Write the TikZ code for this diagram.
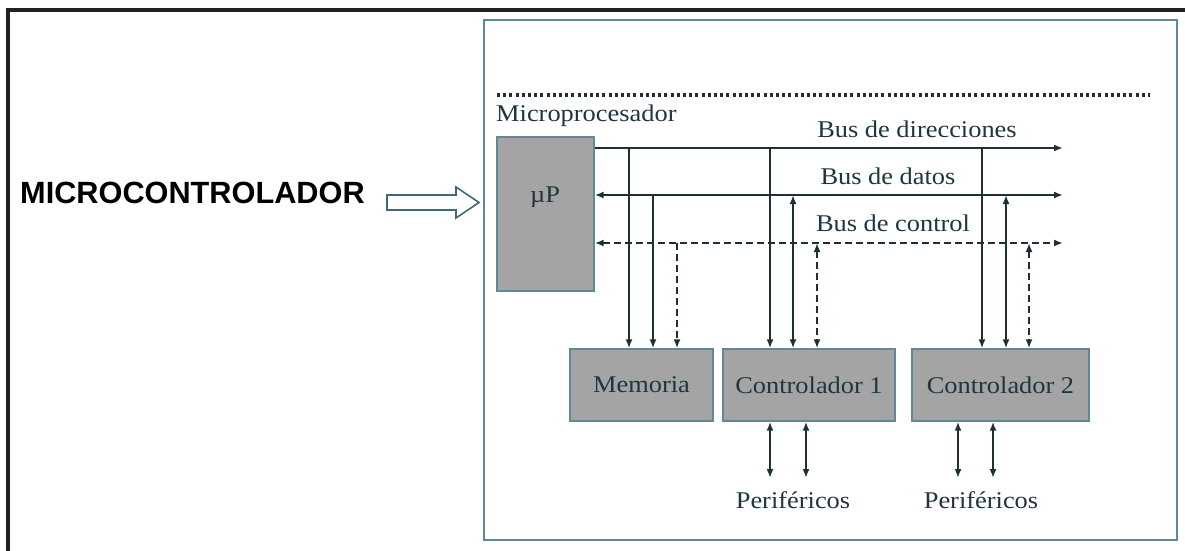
\documentclass[tikz,border=0pt]{standalone}
\usepackage{fontspec}
\setmainfont{Liberation Serif}[FakeStretch=1.1]
\newfontfamily\arialfont{Liberation Sans}
\usetikzlibrary{arrows.meta}
\definecolor{frameblack}{HTML}{231F20}
\definecolor{boxedge}{HTML}{5E8A98}
\definecolor{arrowedge}{HTML}{3F6A78}
\definecolor{linecol}{HTML}{1E2F36}
\definecolor{txtcol}{HTML}{1F3640}
\definecolor{boxfill}{HTML}{A4A4A4}
\tikzset{
  txt/.style={inner sep=0pt, text=txtcol, font=\fontsize{24}{28}\selectfont},
  blk/.style={draw=boxedge, line width=1.4pt, fill=boxfill, inner sep=0pt},
  bus/.style={draw=linecol, line width=2.6pt},
  dbus/.style={bus, dash pattern=on 7pt off 4pt},
  tip/.style={-{Latex[length=9pt,width=7pt]}},
  dtip/.style={{Latex[length=9pt,width=7pt]}-{Latex[length=9pt,width=7pt]}},
}
\begin{document}
\begin{tikzpicture}[x=1pt,y=-1pt]
\useasboundingbox (0,0) rectangle (1185,551);
\fill[white] (0,0) rectangle (1185,551);
% outer black frame (open to right and bottom)
\draw[frameblack, line width=4pt] (8,551) -- (8,10) -- (1185,10);
% inner frame
\draw[boxedge, line width=2.5pt] (484,20) rectangle (1177,540);
% dotted line
\draw[linecol, line width=3.5pt, dash pattern=on 3pt off 3.2pt] (497,95) -- (1150,95);

% title and hollow arrow
\node[inner sep=0pt, anchor=west, font=\arialfont\bfseries\fontsize{30.7}{34}\selectfont, text=black] (title) at (20,193) {MICROCONTROLADOR};
\draw[arrowedge, line width=1.6pt, fill=white] (387,195) -- (456,195) -- (456,187) -- (479,202.5) -- (456,218) -- (456,210) -- (387,210) -- cycle;

% blocks
\node[blk, minimum width=97pt, minimum height=154pt] (mp) at (545.5,214) {};
\node[txt] (mpl) at (545,197) {µP};
\node[txt, anchor=west] (mplabel) at (496,116) {Microprocesador};
\node[blk, minimum width=143pt, minimum height=72pt, txt] (mem) at (641.5,385) {Memoria};
\node[blk, minimum width=172pt, minimum height=72pt, txt] (c1) at (809,385) {Controlador 1};
\node[blk, minimum width=177pt, minimum height=72pt, txt] (c2) at (1000.5,385) {Controlador 2};

% bus ends
\coordinate (ae) at (1063,148);
\coordinate (de) at (1063,195);
\coordinate (ce) at (1063,243);

% buses
\draw[bus, tip] (mp.east |- ae) -- (ae);
\draw[bus, dtip] (mp.east |- de) -- (de);
\draw[dbus, dtip] (mp.east |- ce) -- (ce);

\node[txt] (la) at (917,129) {Bus de direcciones};
\node[txt] (ld) at (888,176) {Bus de datos};
\node[txt] (lc) at (893,223) {Bus de control};

% bus tap points
\coordinate (ma) at (629,148);
\coordinate (md) at (653,195);
\coordinate (mc) at (677,243);
\coordinate (c1a) at (770,148);
\coordinate (c1d) at (793,195);
\coordinate (c1c) at (817,243);
\coordinate (c2a) at (982,148);
\coordinate (c2d) at (1006,195);
\coordinate (c2c) at (1029,243);

\draw[bus, tip] (ma) -- (ma |- mem.north);
\draw[bus, tip] (md) -- (md |- mem.north);
\draw[dbus, tip] (mc) -- (mc |- mem.north);
\draw[bus, tip] (c1a) -- (c1a |- c1.north);
\draw[bus, dtip] (c1d) -- (c1d |- c1.north);
\draw[dbus, dtip] (c1c) -- (c1c |- c1.north);
\draw[bus, tip] (c2a) -- (c2a |- c2.north);
\draw[bus, dtip] (c2d) -- (c2d |- c2.north);
\draw[dbus, dtip] (c2c) -- (c2c |- c2.north);

% peripherals
\coordinate (p1a) at (770,478);
\coordinate (p1b) at (806,478);
\coordinate (p2a) at (958,478);
\coordinate (p2b) at (993,478);
\draw[bus, dtip] (p1a |- c1.south) -- (p1a);
\draw[bus, dtip] (p1b |- c1.south) -- (p1b);
\draw[bus, dtip] (p2a |- c2.south) -- (p2a);
\draw[bus, dtip] (p2b |- c2.south) -- (p2b);
\node[txt] (per1) at (793,500) {Periféricos};
\node[txt] (per2) at (981,500) {Periféricos};
\end{tikzpicture}
\end{document}
